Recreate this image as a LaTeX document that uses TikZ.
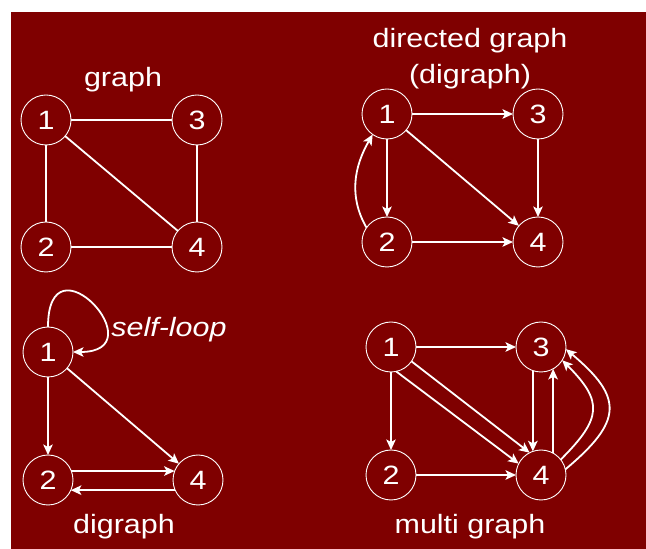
\documentclass[tikz,border=0pt]{standalone}
\usepackage{fontspec}
\setmainfont{Liberation Sans}[FakeStretch=1.15]
\usetikzlibrary{arrows.meta,positioning}
\definecolor{slideRed}{RGB}{127,0,0}

\begin{document}
\begin{tikzpicture}[
  x=1pt,y=1pt,
  vertex/.style={
    circle,
    draw=white,
    line width=0.9pt,
    minimum size=50pt,
    inner sep=0pt,
    outer sep=0pt,
    text=white,
    font=\fontsize{26.5}{30}\selectfont
  },
  caption/.style={text=white,align=center,font=\fontsize{26.5}{36}\selectfont},
  edge/.style={white,line width=1.8pt},
  arrow/.style={edge,-{Stealth[length=10.5pt,width=9.5pt,inset=2.5pt]}},
  node distance=77pt and 101pt
]
  \useasboundingbox (0,0) rectangle (646,549);
  \fill[white] (0,0) rectangle (646,549);
  \fill[slideRed] (11,0) rectangle (646,537);

  % graph
  \node[caption] (graphLabel) at (123,469) {graph};
  \node[vertex] (g1) at (46,429) {1};
  \node[vertex,right=of g1] (g3) {3};
  \node[vertex,below=of g1] (g2) {2};
  \node[vertex,below=of g3] (g4) {4};
  \draw[edge] (g1) -- (g3);
  \draw[edge] (g1) -- (g2);
  \draw[edge] (g1) -- (g4);
  \draw[edge] (g3) -- (g4);
  \draw[edge] (g2) -- (g4);

  % directed graph
  \node[caption] (digraphTitle) at (470,490) {directed graph\\(digraph)};
  \node[vertex] (d1) at (387,435) {1};
  \node[vertex,right=of d1] (d3) {3};
  \node[vertex,below=78pt of d1] (d2) {2};
  \node[vertex,below=78pt of d3] (d4) {4};
  \draw[arrow] (d1) -- (d3);
  \draw[arrow] (d1) -- (d2);
  \draw[arrow] (d1) -- (d4);
  \draw[arrow] (d3) -- (d4);
  \draw[arrow] (d2) -- (d4);
  \draw[arrow] (d2.145) to[out=120,in=240] (d1.235);

  % digraph with self-loop
  \node[vertex] (s1) at (48,197) {1};
  \node[vertex,below=78pt of s1] (s2) {2};
  \node[vertex,right=100pt of s2] (s4) {4};
  \node[caption,font=\fontsize{26.5}{30}\selectfont\itshape] (loopLabel) at (169,219) {self-loop};
  \node[caption] (digraphLabel) at (124,22) {digraph};
  \draw[arrow] (s1.north) .. controls +(0,95) and +(85,0) .. (s1.east);
  \draw[arrow] (s1) -- (s2);
  \draw[arrow] (s1) -- (s4);
  \draw[arrow] (s2.21) -- (s4.159);
  \draw[arrow] (s4.-156) -- (s2.-24);

  % multi graph
  \node[vertex] (m1) at (391,202) {1};
  \node[vertex,right=100pt of m1] (m3) {3};
  \node[vertex,below=78pt of m1] (m2) {2};
  \node[vertex,below=78pt of m3] (m4) {4};
  \node[caption] (multiLabel) at (470,22) {multi graph};
  \draw[arrow] (m1) -- (m3);
  \draw[arrow] (m1) -- (m2);
  \draw[arrow] (m2) -- (m4);
  \draw[arrow] (m1.-35) -- (m4.117);
  \draw[arrow] (m1.-78) -- (m4.153);
  \draw[arrow] (m3.251) -- (m4.109);
  \draw[arrow] (m4.61) -- (m3.299);
  \draw[arrow] (m4.38) to[out=45,in=-45,looseness=1.5] (m3.-32);
  \draw[arrow] (m4.13) to[out=40,in=-40,looseness=1.6] (m3.-5);
\end{tikzpicture}
\end{document}
